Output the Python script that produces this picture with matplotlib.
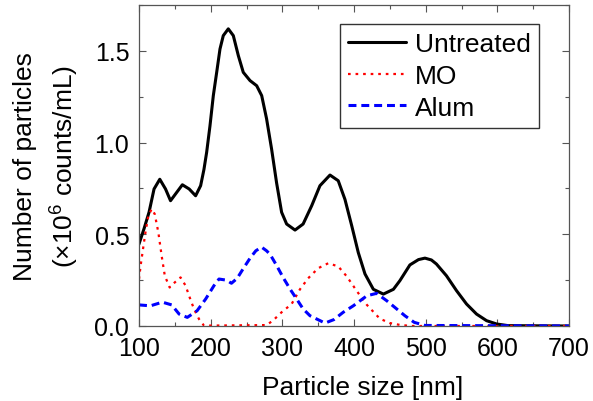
import matplotlib
matplotlib.use("Agg")
import matplotlib.pyplot as plt
from matplotlib.ticker import MultipleLocator

plt.rcParams['font.family'] = ['Liberation Sans', 'DejaVu Sans']
plt.rcParams['mathtext.fontset'] = 'custom'
plt.rcParams['mathtext.rm'] = 'Liberation Sans'
plt.rcParams['mathtext.it'] = 'Liberation Sans'

# Untreated
untreated_x = [100, 107, 114, 121, 129, 137, 144, 151, 160.5, 170, 179, 186, 190.6, 194.4, 199, 203.7,
               208.4, 213, 217.6, 224.6, 231.6, 238.6, 245.5, 254.9, 264.2, 271.2, 278, 285, 292, 299,
               306, 317.7, 329, 341, 352.5, 366.5, 378, 387.4, 396.8, 406, 415.3, 427, 441, 455, 464,
               478, 490, 499, 508, 515, 529, 543, 557, 571, 585, 599, 615, 700]
untreated_y = [0.447, 0.53, 0.62, 0.747, 0.80, 0.747, 0.683, 0.72, 0.77, 0.747, 0.71, 0.765, 0.853, 0.947, 1.09, 1.256,
               1.383, 1.51, 1.583, 1.62, 1.583, 1.474, 1.383, 1.338, 1.31, 1.256, 1.13, 0.965, 0.78, 0.62,
               0.556, 0.523, 0.556, 0.656, 0.765, 0.823, 0.792, 0.69, 0.547, 0.40, 0.284, 0.20, 0.174, 0.20, 0.247,
               0.333, 0.362, 0.37, 0.36, 0.338, 0.274, 0.193, 0.12, 0.065, 0.029, 0.011, 0.002, 0.0]

# MO
mo_x = [100, 102.3, 105.6, 109, 113, 117.7, 122, 127, 131.6, 136, 142.8, 150, 158, 165, 170.7, 176.7, 183.7,
        190.7, 278, 287, 299, 313, 324.6, 336, 350, 364, 378, 390, 404, 418, 436, 450, 464, 480, 700]
mo_y = [0.256, 0.33, 0.42, 0.51, 0.60, 0.638, 0.61, 0.51, 0.383, 0.274, 0.21, 0.238, 0.265, 0.22, 0.156, 0.093, 0.038,
        0.002, 0.005, 0.03, 0.075, 0.12, 0.20, 0.26, 0.315, 0.342, 0.325, 0.27, 0.19, 0.115, 0.04, 0.016, 0.006, 0.0, 0.0]

# Alum
alum_x = [100, 116, 132.6, 145.6, 156, 167.4, 181, 193, 204.6, 211.6, 222, 229, 237, 245, 255, 263, 271, 278,
          283, 292, 301, 311, 320, 329, 338.6, 359.5, 372, 385, 399, 418, 431.6, 445.6, 459.6, 471, 484, 499, 700]
alum_y = [0.115, 0.11, 0.13, 0.115, 0.065, 0.047, 0.083, 0.147, 0.22, 0.256, 0.25, 0.233, 0.26, 0.31, 0.37, 0.41, 0.43, 0.41,
          0.39, 0.33, 0.265, 0.20, 0.147, 0.093, 0.056, 0.016, 0.035, 0.075, 0.11, 0.165, 0.178, 0.138, 0.093, 0.056, 0.02, 0.003, 0.0]

xticks = [100, 200, 300, 400, 500, 600, 700]
yticks = [0.0, 0.5, 1.0, 1.5]

fig = plt.figure(figsize=(5.93, 4.02), dpi=100)
ax = fig.add_axes([139/593, 75/402, 430/593, 321/402])

ax.plot(untreated_x, untreated_y, color='black', lw=2.2, label='Untreated',
        solid_joinstyle='round', solid_capstyle='round')
ax.plot(mo_x, mo_y, color='red', lw=1.6, linestyle=(0, (1.2, 2.2)), label='MO')
ax.plot(alum_x, alum_y, color='blue', lw=2.2, linestyle=(0, (2.6, 1.6)), label='Alum')

ax.set_xlim(100, 700)
ax.set_ylim(0, 1.75)
ax.set_xticks(xticks)
ax.set_yticks(yticks)
ax.set_xticklabels([str(v) for v in xticks])
ax.set_yticklabels([f'{v:.1f}' for v in yticks])
ax.xaxis.set_minor_locator(MultipleLocator(50))
ax.yaxis.set_minor_locator(MultipleLocator(0.25))
ax.tick_params(which='both', direction='in', top=True, right=True, labelsize=18, color='#555555')
ax.tick_params(which='major', length=5, width=0.8, pad=7)
ax.tick_params(which='minor', length=3, width=0.8)
for s in ax.spines.values():
    s.set_color('#555555')
    s.set_linewidth(0.9)

ax.set_xlabel('Particle size [nm]', fontsize=19, labelpad=11)
ax.xaxis.label.set_x(0.519)
ax.set_ylabel('Number of particles\n(×10$^{6}$ counts/mL)', fontsize=19, labelpad=10, linespacing=1.45)

leg = ax.legend(loc='upper right', bbox_to_anchor=(0.93, 0.941), fontsize=19, frameon=True,
                fancybox=False, edgecolor='black', borderaxespad=0, handlelength=2.2,
                handletextpad=0.34, labelspacing=0.3, borderpad=0.3)
leg.get_frame().set_linewidth(1.0)

fig.savefig('out.png', dpi=100)
